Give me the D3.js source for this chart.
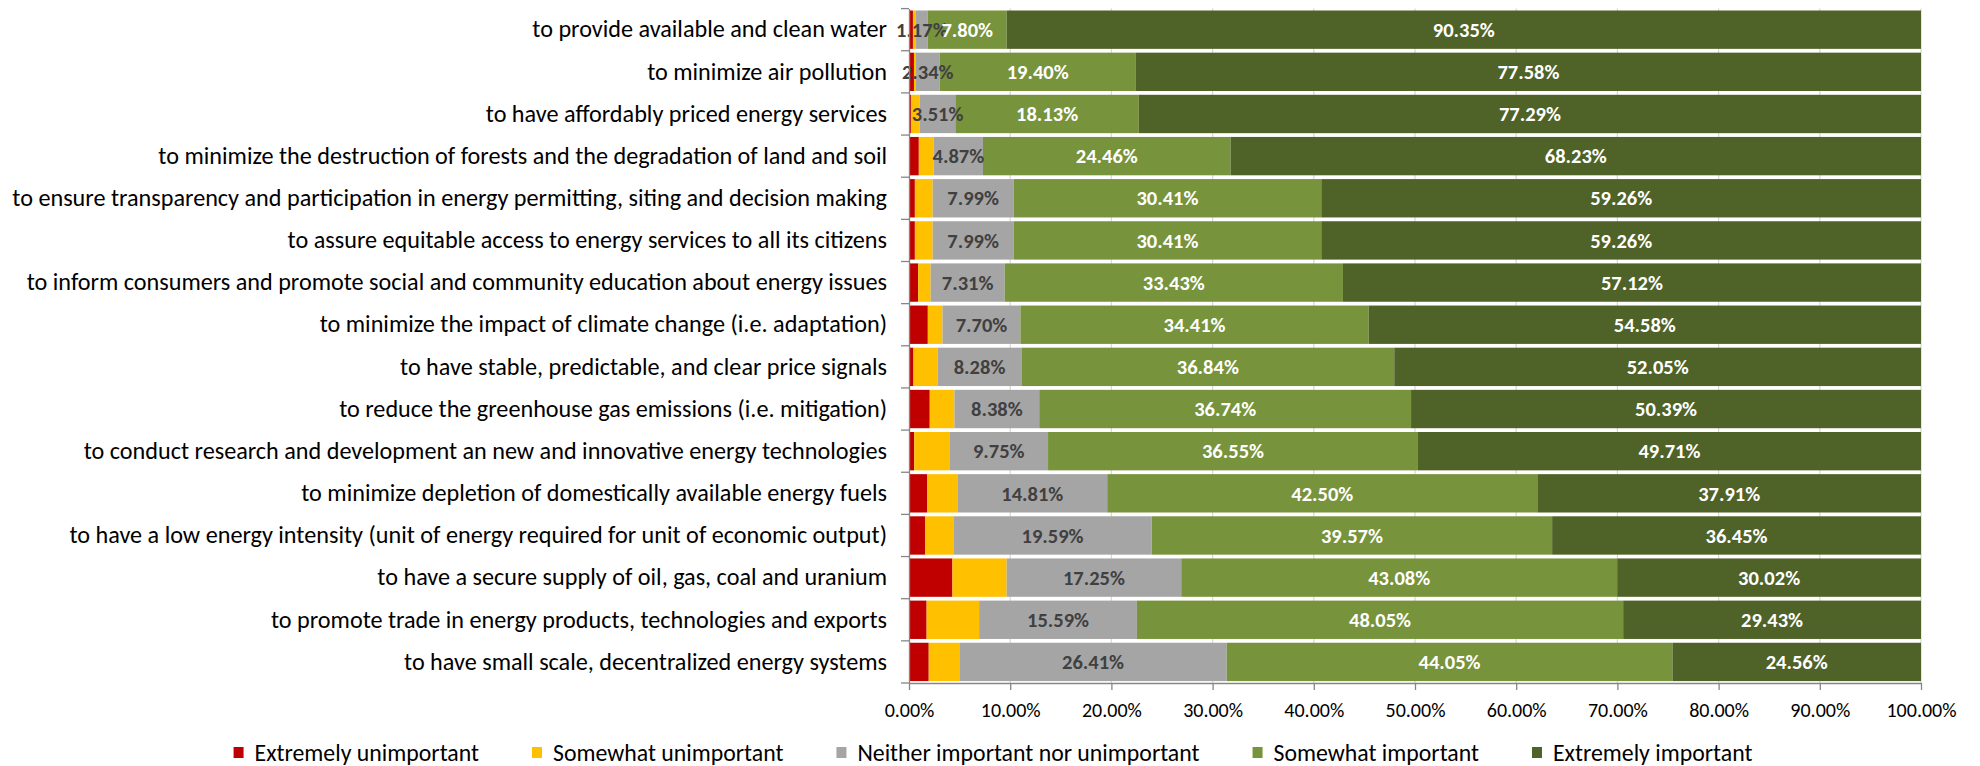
<!DOCTYPE html>
<html>
<head>
<meta charset="utf-8">
<script src="https://cdn.jsdelivr.net/npm/d3@7"></script>
<style>
  body { margin: 0; background: #fff; }
  svg { display: block; font-family: Carlito, Calibri, "Open Sans", sans-serif; }
</style>
</head>
<body>
<div id="chart"></div>
<script>
const categories = [
    "to provide available and clean water",
    "to minimize air pollution",
    "to have affordably priced energy services",
    "to minimize the destruction of forests and the degradation of land and soil",
    "to ensure transparency and participation in energy permitting, siting and decision making",
    "to assure equitable access to energy services to all its citizens",
    "to inform consumers and promote social and community education about energy issues",
    "to minimize the impact of climate change (i.e. adaptation)",
    "to have stable, predictable, and clear price signals",
    "to reduce the greenhouse gas emissions (i.e. mitigation)",
    "to conduct research and development an new and innovative energy technologies",
    "to minimize depletion of domestically available energy fuels ",
    "to have a low energy intensity (unit of energy required for unit of economic output)",
    "to have a secure supply of oil, gas, coal and uranium",
    "to promote trade in energy products, technologies and exports",
    "to have small scale, decentralized energy systems"
];

const seriesNames = ["Extremely unimportant", "Somewhat unimportant", "Neither important nor unimportant", "Somewhat important", "Extremely important"];

const extremelyUnimportant = [0.39, 0.49, 0.19, 0.97, 0.58, 0.58, 0.91, 1.86, 0.44, 2.05, 0.52, 1.81, 1.58, 4.29, 1.74, 1.95];
const somewhatUnimportant  = [0.29, 0.19, 0.88, 1.47, 1.76, 1.76, 1.23, 1.45, 2.39, 2.44, 3.47, 2.97, 2.81, 5.36, 5.19, 3.03];
const neither              = [1.17, 2.34, 3.51, 4.87, 7.99, 7.99, 7.31, 7.70, 8.28, 8.38, 9.75, 14.81, 19.59, 17.25, 15.59, 26.41];
const somewhatImportant    = [7.80, 19.40, 18.13, 24.46, 30.41, 30.41, 33.43, 34.41, 36.84, 36.74, 36.55, 42.50, 39.57, 43.08, 48.05, 44.05];
const extremelyImportant   = [90.35, 77.58, 77.29, 68.23, 59.26, 59.26, 57.12, 54.58, 52.05, 50.39, 49.71, 37.91, 36.45, 30.02, 29.43, 24.56];

const xTicks = [0, 10, 20, 30, 40, 50, 60, 70, 80, 90, 100];

const colors = ["#C00000", "#FFC000", "#A5A5A5", "#77933C", "#4F6228"];
const labelColors = [null, null, "#404040", "#ffffff", "#ffffff"];

const W = 1980, H = 766;
const margin = { top: 8.6, right: 59, bottom: 83, left: 909 };

const svg = d3.select("#chart").append("svg")
    .attr("width", W)
    .attr("height", H);

const x = d3.scaleLinear().domain([0, 100]).range([margin.left, W - margin.right]);
const y = d3.scaleBand().domain(categories).range([margin.top, H - margin.bottom])
    .paddingInner(0.09).paddingOuter(0.045);

const values = [extremelyUnimportant, somewhatUnimportant, neither, somewhatImportant, extremelyImportant];
const rows = categories.map((c, i) => {
    const r = { category: c };
    seriesNames.forEach((s, j) => { r[s] = values[j][i]; });
    return r;
});
const stacked = d3.stack().keys(seriesNames)(rows);

// gridlines
svg.append("g")
    .selectAll("line")
    .data(xTicks.slice(1))
    .join("line")
    .attr("x1", d => x(d)).attr("x2", d => x(d))
    .attr("y1", margin.top).attr("y2", H - margin.bottom)
    .attr("stroke", "#D9D9D9")
    .attr("stroke-width", 1.3);

// bars
const layer = svg.append("g").selectAll("g")
    .data(stacked)
    .join("g")
    .attr("fill", (d, i) => colors[i]);

layer.selectAll("rect")
    .data(d => d)
    .join("rect")
    .attr("x", d => x(d[0]))
    .attr("y", d => y(d.data.category))
    .attr("width", d => x(d[1]) - x(d[0]))
    .attr("height", y.bandwidth());

// data labels
stacked.forEach((s, i) => {
    if (!labelColors[i]) return;
    svg.append("g").selectAll("text")
        .data(s)
        .join("text")
        .attr("x", d => x((d[0] + d[1]) / 2))
        .attr("y", d => y(d.data.category) + y.bandwidth() / 2)
        .attr("dy", "0.35em")
        .attr("text-anchor", "middle")
        .attr("fill", labelColors[i])
        .style("font-weight", "bold")
        .style("font-size", "20.5px")
        .text(d => d3.format(".2f")(d.data[s.key]) + "%");
});

// x axis
const xAxis = svg.append("g")
    .attr("transform", "translate(0," + (H - margin.bottom) + ")")
    .call(d3.axisBottom(x).tickValues(xTicks).tickSize(7).tickSizeOuter(0)
        .tickFormat(d => d3.format(".2f")(d) + "%"));
xAxis.attr("font-family", null).attr("font-size", null);
xAxis.select(".domain").attr("stroke", "#868686").attr("stroke-width", 1.3);
xAxis.selectAll(".tick line").attr("stroke", "#868686").attr("stroke-width", 1.3);
xAxis.selectAll(".tick text")
    .attr("y", 20)
    .attr("fill", "#000")
    .style("font-size", "20px");

// y axis
const yAxis = svg.append("g")
    .attr("transform", "translate(" + margin.left + ",0)")
    .call(d3.axisLeft(y).tickSize(0).tickPadding(22));
yAxis.attr("font-family", null).attr("font-size", null);
yAxis.select(".domain").attr("stroke", "#868686").attr("stroke-width", 1.3);
yAxis.selectAll(".tick text")
    .attr("fill", "#000")
    .style("font-size", "24.2px");
// category separator ticks
svg.append("g").selectAll("line")
    .data(d3.range(categories.length + 1))
    .join("line")
    .attr("x1", margin.left - 8).attr("x2", margin.left)
    .attr("y1", i => margin.top + i * y.step())
    .attr("y2", i => margin.top + i * y.step())
    .attr("stroke", "#868686")
    .attr("stroke-width", 1.3);

// legend
const legend = svg.append("g").attr("transform", "translate(0,753)");
let lx = 0;
const items = legend.selectAll("g")
    .data(seriesNames)
    .join("g");
items.append("rect")
    .attr("y", -6).attr("width", 10).attr("height", 11)
    .attr("fill", (d, i) => colors[i]);
items.append("text")
    .attr("x", 21)
    .attr("dy", "0.33em")
    .style("font-size", "23.8px")
    .attr("fill", "#000")
    .text(d => d);
items.each(function () {
    d3.select(this).attr("transform", "translate(" + lx + ",0)");
    lx += this.getBBox().width + 53;
});
legend.attr("transform", "translate(" + (993 - (lx - 53) / 2) + ",753)");
</script>
</body>
</html>
